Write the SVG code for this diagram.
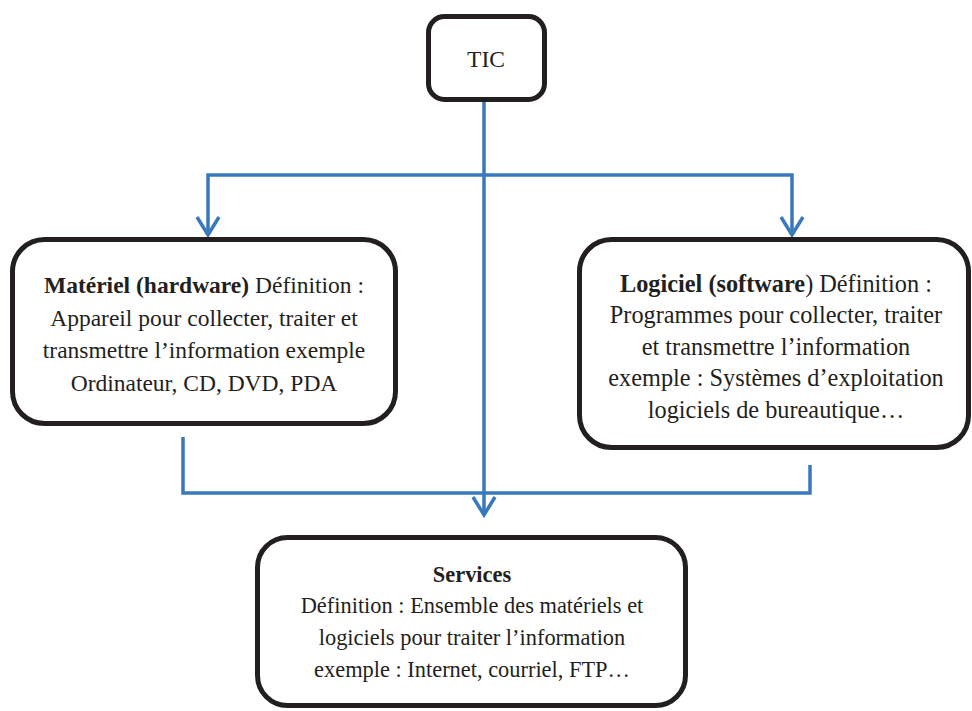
<svg xmlns="http://www.w3.org/2000/svg" width="972" height="711" viewBox="0 0 972 711">
  <style>
    .box { fill: #ffffff; stroke: #231f20; stroke-width: 5; }
    .wire { fill: none; stroke: #3a78bd; stroke-width: 3.5; stroke-linecap: butt; }
    .head { fill: none; stroke: #3a78bd; stroke-width: 3.5; stroke-linejoin: miter; }
    text { font-family: "Liberation Serif", "Times New Roman", serif; font-size: 23.5px; fill: #231f20; text-anchor: middle; }
    .b { font-weight: bold; }
    .r { font-size: 24.3px; }
    .s { font-size: 22.4px; }
  </style>
  <rect width="972" height="711" fill="#ffffff"/>

  <!-- connectors -->
  <g id="connectors">
    <!-- TIC down to Services -->
    <line class="wire" x1="484" y1="100" x2="484" y2="514"/>
    <!-- branch to Matériel / Logiciel -->
    <polyline class="wire" points="208,235 208,175 792,175 792,235"/>
    <!-- Matériel / Logiciel joined toward Services -->
    <polyline class="wire" points="183,437 183,493 810,493 810,465"/>
    <!-- arrowheads -->
    <polyline class="head" points="197,217 208,235 219,217"/>
    <polyline class="head" points="781,217 792,235 803,217"/>
    <polyline class="head" points="473,497 484,515 495,497"/>
  </g>

  <g id="tic">
    <rect class="box" x="428.5" y="16.5" width="116" height="83" rx="16"/>
    <text x="486" y="67">TIC</text>
  </g>

  <g id="materiel">
    <rect class="box" x="12.5" y="239.5" width="383" height="184" rx="32"/>
    <text x="204" y="293"><tspan class="b">Matériel (hardware)</tspan> Définition :</text>
    <text x="204" y="326">Appareil pour collecter, traiter et</text>
    <text x="204" y="358">transmettre l’information exemple</text>
    <text x="204" y="391">Ordinateur, CD, DVD, PDA</text>
  </g>

  <g id="logiciel">
    <rect class="box" x="579.5" y="239.5" width="389" height="208" rx="32"/>
    <text class="r" x="776" y="292"><tspan class="b">Logiciel (software</tspan>) Définition :</text>
    <text class="r" x="776" y="323">Programmes pour collecter, traiter</text>
    <text class="r" x="776" y="355">et transmettre l’information</text>
    <text class="r" x="776" y="386">exemple : Systèmes d’exploitation</text>
    <text class="r" x="776" y="418">logiciels de bureautique…</text>
  </g>

  <g id="services">
    <rect class="box" x="257.5" y="537.5" width="428" height="168" rx="30"/>
    <text class="b s" x="472" y="582">Services</text>
    <text class="s" x="472" y="613">Définition : Ensemble des matériels et</text>
    <text class="s" x="472" y="645">logiciels pour traiter l’information</text>
    <text class="s" x="472" y="677">exemple : Internet, courriel, FTP…</text>
  </g>
</svg>
